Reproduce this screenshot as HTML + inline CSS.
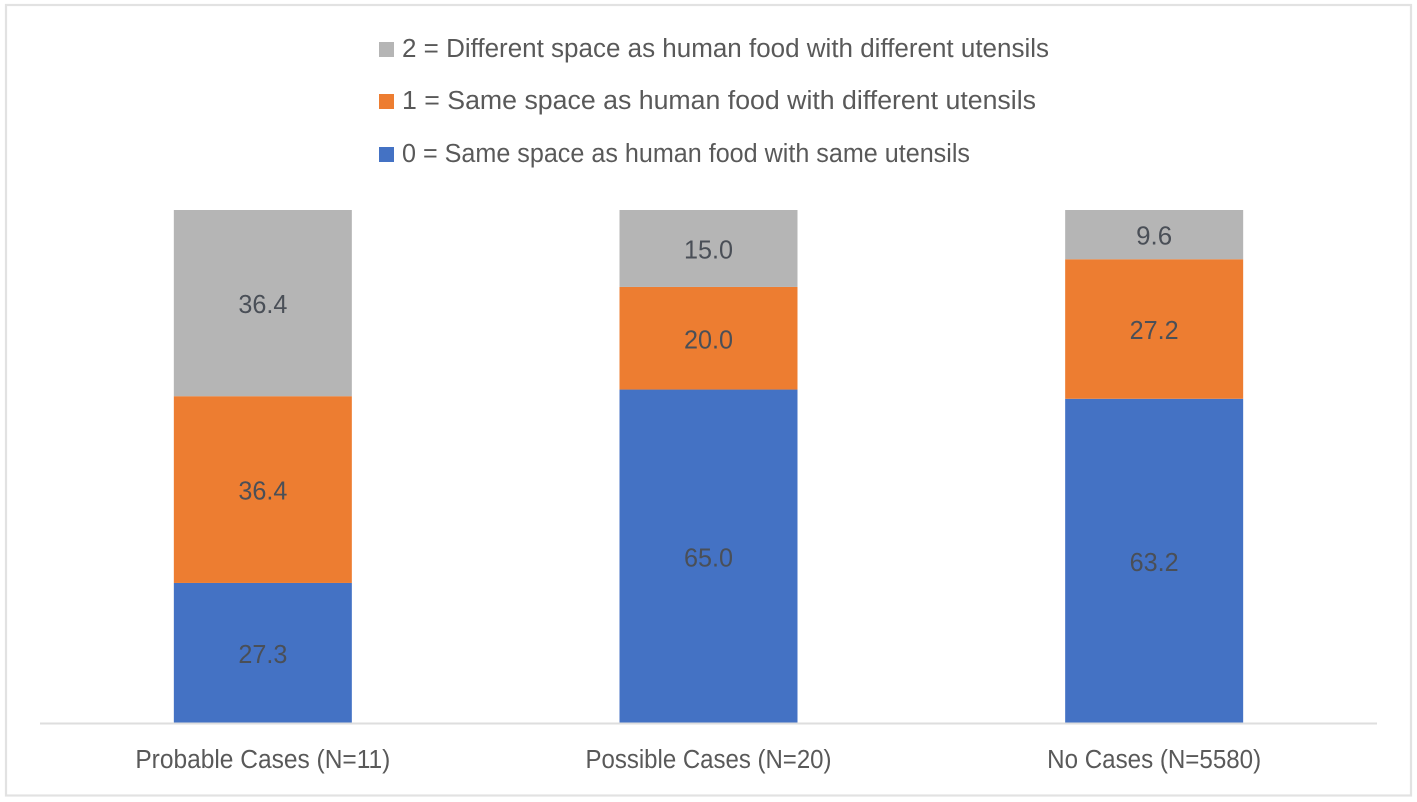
<!DOCTYPE html>
<html>
<head>
<meta charset="utf-8">
<style>
html,body{margin:0;padding:0;background:#fff;width:1417px;height:802px;overflow:hidden}
svg{display:block}
text{font-family:"Liberation Sans",sans-serif}
</style>
</head>
<body>
<svg id="chart" width="1417" height="802" viewBox="0 0 1417 802" xmlns="http://www.w3.org/2000/svg">
  <rect x="6" y="5" width="1405" height="790.5" fill="#fff" stroke="#e2e2e2" stroke-width="2.2"/>
  <g id="bars"></g>
  <line x1="40" x2="1377" y1="723.5" y2="723.5" stroke="#dedede" stroke-width="2"/>
  <g id="labels"></g>
  <g id="ticks"></g>
  <g id="legend"></g>
</svg>
<script>
const categories = ["Probable Cases (N=11)", "Possible Cases (N=20)", "No Cases (N=5580)"];
const sameSpaceSameUtensils = [27.3, 65.0, 63.2];
const sameSpaceDifferentUtensils = [36.4, 20.0, 27.2];
const differentSpaceDifferentUtensils = [36.4, 15.0, 9.6];
const seriesNames = [
  "0 = Same space as human food with same utensils",
  "1 = Same space as human food with different utensils",
  "2 = Different space as human food with different utensils"
];
const seriesValues = [sameSpaceSameUtensils, sameSpaceDifferentUtensils, differentSpaceDifferentUtensils];
const seriesColors = ["#4472c4", "#ed7d31", "#b5b5b5"];
const axisMax = 100;

const NS = "http://www.w3.org/2000/svg";
const plotLeft = 40, plotRight = 1377, plotTop = 210, plotBottom = 723;
const bandWidth = (plotRight - plotLeft) / categories.length;
const barWidth = 178;
const xCenter = i => plotLeft + bandWidth * (i + 0.5);
const yScale = v => plotBottom - (Math.min(v, axisMax) / axisMax) * (plotBottom - plotTop);

function makeText(parent, x, y, str, size, fill, anchor) {
  const t = document.createElementNS(NS, "text");
  t.setAttribute("x", x);
  t.setAttribute("y", y);
  t.setAttribute("font-size", size);
  t.setAttribute("fill", fill);
  t.setAttribute("text-anchor", anchor);
  t.textContent = str;
  parent.appendChild(t);
  return t;
}

const barsG = document.getElementById("bars");
const labelsG = document.getElementById("labels");
const ticksG = document.getElementById("ticks");
const legendG = document.getElementById("legend");

categories.forEach((cat, i) => {
  let cum = 0;
  seriesValues.forEach((vals, s) => {
    const v = vals[i];
    const y1 = yScale(cum);
    const y2 = yScale(cum + v);
    const r = document.createElementNS(NS, "rect");
    r.setAttribute("x", xCenter(i) - barWidth / 2);
    r.setAttribute("y", y2);
    r.setAttribute("width", barWidth);
    r.setAttribute("height", Math.max(0, y1 - y2));
    r.setAttribute("fill", seriesColors[s]);
    
    
    barsG.appendChild(r);
    const lab = makeText(labelsG, xCenter(i), (y1 + y2) / 2 + 10, v.toFixed(1), 25.5, "#4a4f57", "middle");
    lab.setAttribute("textLength", v.toFixed(1).length === 3 ? 36 : 49);
    lab.setAttribute("lengthAdjust", "spacingAndGlyphs");
    
    
    cum += v;
  });
  const tick = makeText(ticksG, xCenter(i), 768, cat, 25.5, "#595959", "middle");
  tick.setAttribute("textLength", [255, 246, 214][i]);
  tick.setAttribute("lengthAdjust", "spacingAndGlyphs");
  
  
});

const legendY = [147, 94, 42];
const legendLengths = [568, 634, 647];
seriesNames.forEach((name, s) => {
  const sw = document.createElementNS(NS, "rect");
  sw.setAttribute("x", 379);
  sw.setAttribute("y", legendY[s]);
  sw.setAttribute("width", 15);
  sw.setAttribute("height", 15);
  sw.setAttribute("fill", seriesColors[s]);
  
  
  legendG.appendChild(sw);
  const t = makeText(legendG, 402, legendY[s] + 15, name, 25.5, "#595959", "start");
  t.setAttribute("textLength", legendLengths[s]);
  t.setAttribute("lengthAdjust", "spacingAndGlyphs");
  
  
});
</script>
</body>
</html>
